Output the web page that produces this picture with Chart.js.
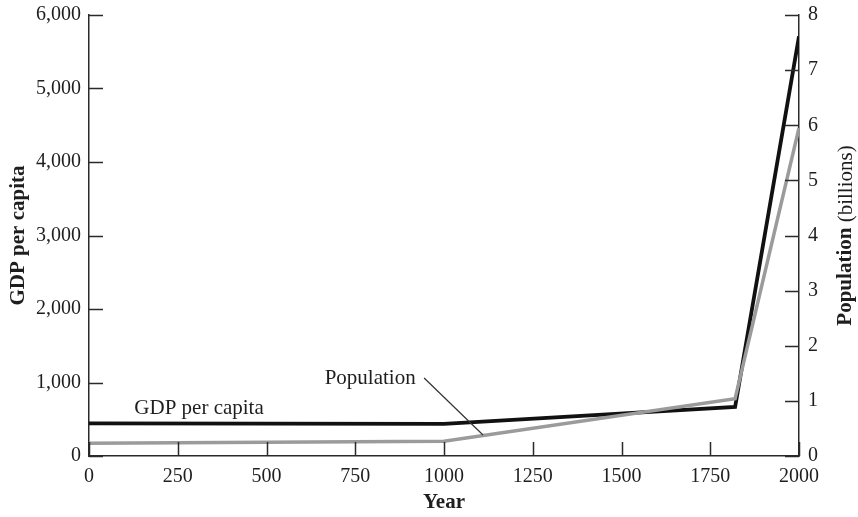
<!DOCTYPE html>
<html>
<head>
<meta charset="utf-8">
<script src="https://cdn.jsdelivr.net/npm/chart.js@4/dist/chart.umd.min.js"></script>
<style>
  html, body { margin: 0; padding: 0; background: #fff; }
  #wrap { width: 858px; height: 517px; }
</style>
</head>
<body>
<div id="wrap"><canvas id="c" width="858" height="517"></canvas></div>
<script>
// ---- data ----
const years = [0, 1000, 1820, 2000];
const gdpPerCapita = [445, 436, 667, 5709];
const populationBillions = [0.231, 0.268, 1.041, 5.95];
const xTicks = [0, 250, 500, 750, 1000, 1250, 1500, 1750, 2000];
const gdpTicks = [0, 1000, 2000, 3000, 4000, 5000, 6000];
const popTicks = [0, 1, 2, 3, 4, 5, 6, 7, 8];

const FONT = '"Liberation Serif", "Times New Roman", serif';
const AXIS_COLOR = '#2a2a2a';
const TEXT_COLOR = '#1e1e1e';

// inward tick marks, annotations, right-axis title
const decorPlugin = {
  id: 'decor',
  afterDraw(chart) {
    const ctx = chart.ctx;
    const x = chart.scales.x, yL = chart.scales.y, yR = chart.scales.y2;
    const ca = chart.chartArea;
    const TL = 14;
    ctx.save();
    ctx.strokeStyle = AXIS_COLOR;
    ctx.lineWidth = 1.5;
    ctx.beginPath();
    xTicks.forEach(v => {
      const px = Math.round(x.getPixelForValue(v)) + 0.5;
      ctx.moveTo(px, ca.bottom); ctx.lineTo(px, ca.bottom - TL);
    });
    gdpTicks.forEach(v => {
      const py = Math.round(yL.getPixelForValue(v)) + 0.5;
      ctx.moveTo(ca.left, py); ctx.lineTo(ca.left + TL, py);
    });
    popTicks.forEach(v => {
      const py = Math.round(yR.getPixelForValue(v)) + 0.5;
      ctx.moveTo(ca.right, py); ctx.lineTo(ca.right - TL, py);
    });
    ctx.stroke();

    // annotation labels
    ctx.fillStyle = TEXT_COLOR;
    ctx.font = '21px ' + FONT;
    ctx.textAlign = 'center';
    ctx.textBaseline = 'middle';
    ctx.fillText('GDP per capita', x.getPixelForValue(310), yL.getPixelForValue(653));
    ctx.fillText('Population', x.getPixelForValue(792), yL.getPixelForValue(1061));
    // leader line
    ctx.strokeStyle = '#333';
    ctx.lineWidth = 1.2;
    ctx.beginPath();
    ctx.moveTo(x.getPixelForValue(944), yL.getPixelForValue(1061));
    ctx.lineTo(x.getPixelForValue(1110), yL.getPixelForValue(286));
    ctx.stroke();

    // right axis title: bold "Population" + regular " (billions)"
    const cy = (ca.top + ca.bottom) / 2;
    ctx.translate(846, cy);
    ctx.rotate(-Math.PI / 2);
    ctx.textBaseline = 'middle';
    ctx.textAlign = 'left';
    const boldF = 'bold 21px ' + FONT, regF = '21px ' + FONT;
    ctx.font = boldF; const w1 = ctx.measureText('Population').width;
    ctx.font = regF; const w2 = ctx.measureText(' (billions)').width;
    const start = -(w1 + w2) / 2;
    ctx.font = boldF; ctx.fillText('Population', start, 0);
    ctx.font = regF; ctx.fillText(' (billions)', start + w1, 0);
    ctx.restore();
  }
};

const gdpData = years.map((yr, i) => ({ x: yr, y: gdpPerCapita[i] }));
const popData = years.map((yr, i) => ({ x: yr, y: populationBillions[i] }));

const fitSide = w => s => { s.width = w; s.paddingTop = 0; s.paddingBottom = 0; };

new Chart(document.getElementById('c'), {
  type: 'line',
  data: {
    datasets: [
      { label: 'Population', data: popData, yAxisID: 'y2', borderColor: '#9b9b9b', borderWidth: 3.5, pointRadius: 0, tension: 0, fill: false },
      { label: 'GDP per capita', data: gdpData, yAxisID: 'y', borderColor: '#111111', borderWidth: 3.8, pointRadius: 0, tension: 0, fill: false }
    ]
  },
  options: {
    responsive: false,
    animation: false,
    layout: { padding: { top: 15, left: 0, right: 0, bottom: 0 } },
    plugins: { legend: { display: false }, tooltip: { enabled: false } },
    scales: {
      x: {
        type: 'linear', min: 0, max: 2000,
        afterBuildTicks: s => { s.ticks = xTicks.map(v => ({ value: v })); },
        afterFit: s => { s.height = 61; s.paddingLeft = 0; s.paddingRight = 0; },
        grid: { display: true, drawOnChartArea: false, drawTicks: false },
        border: { display: true, color: AXIS_COLOR, width: 1.5 },
        ticks: { color: TEXT_COLOR, font: { family: FONT, size: 20 }, padding: 9, maxRotation: 0, autoSkip: false, callback: v => String(v) },
        title: { display: true, text: 'Year', color: TEXT_COLOR, font: { family: FONT, size: 21, weight: 'bold' }, padding: { top: 0, bottom: 2 } }
      },
      y: {
        type: 'linear', position: 'left', min: 0, max: 6000,
        afterBuildTicks: s => { s.ticks = gdpTicks.map(v => ({ value: v })); },
        afterFit: fitSide(89),
        grid: { display: true, drawOnChartArea: false, drawTicks: false },
        border: { display: true, color: AXIS_COLOR, width: 1.5 },
        ticks: { color: TEXT_COLOR, font: { family: FONT, size: 20 }, padding: 8, callback: v => v.toLocaleString('en-US') },
        title: { display: true, text: 'GDP per capita', color: TEXT_COLOR, font: { family: FONT, size: 21, weight: 'bold' }, padding: { top: 6, bottom: 0 } }
      },
      y2: {
        type: 'linear', position: 'right', min: 0, max: 8,
        afterBuildTicks: s => { s.ticks = popTicks.map(v => ({ value: v })); },
        afterFit: fitSide(59),
        grid: { display: true, drawOnChartArea: false, drawTicks: false },
        border: { display: true, color: AXIS_COLOR, width: 1.5 },
        ticks: { color: TEXT_COLOR, font: { family: FONT, size: 20 }, padding: 9, callback: v => String(v) },
        title: { display: false }
      }
    }
  },
  plugins: [decorPlugin]
});
</script>
</body>
</html>
